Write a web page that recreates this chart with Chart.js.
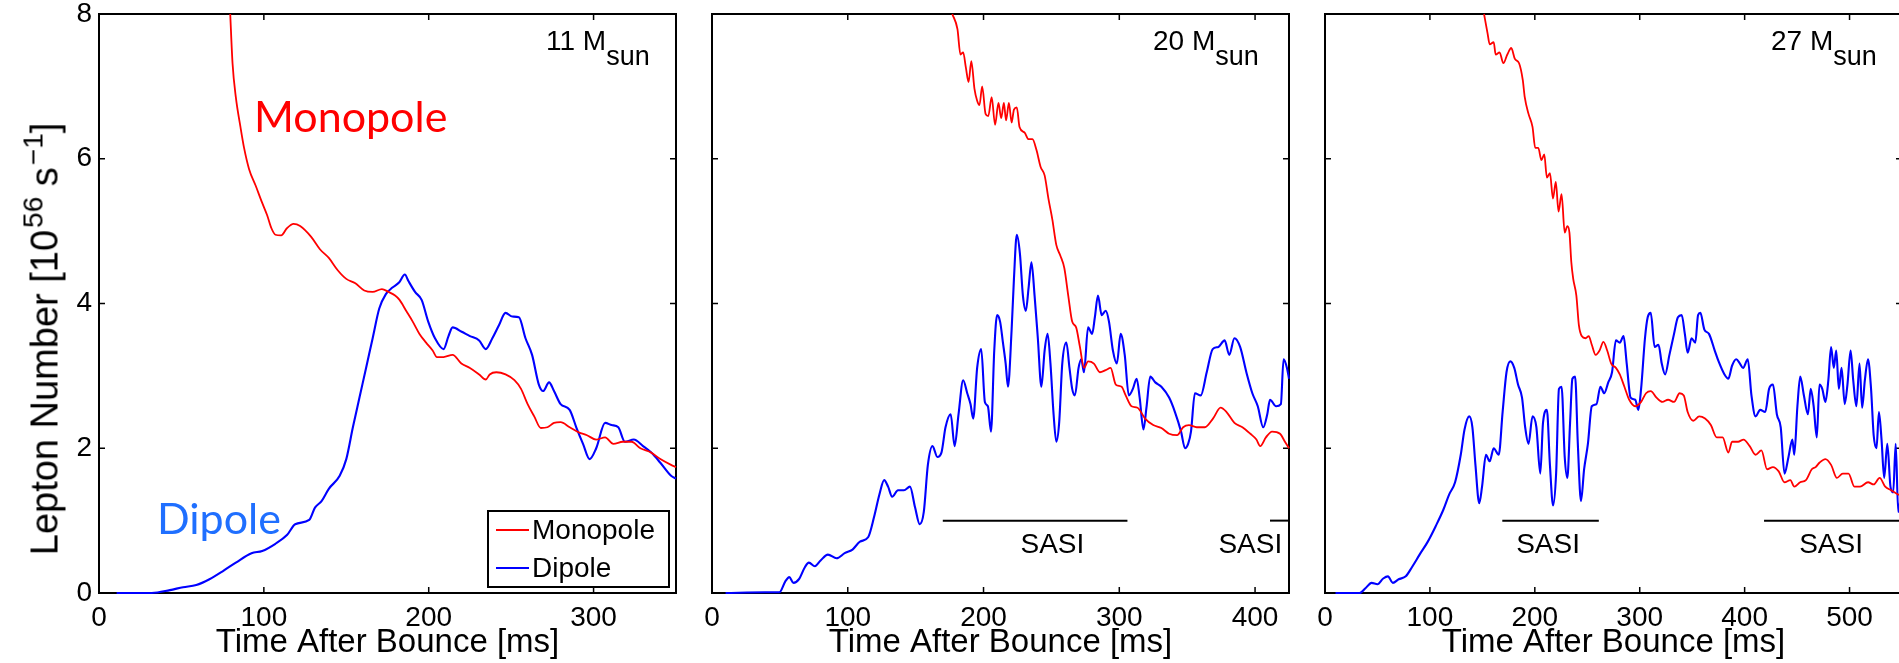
<!DOCTYPE html>
<html>
<head>
<meta charset="utf-8">
<script src="https://cdn.jsdelivr.net/npm/chart.js@4.4.1/dist/chart.umd.min.js"></script>
<style>
html, body { margin: 0; padding: 0; background: #fff; width: 1899px; height: 663px; overflow: hidden; position: relative; }
.panel { position: absolute; top: 0; height: 663px; }
.txt { position: absolute; white-space: nowrap; line-height: 1; }
.mass { font: 28px "Liberation Sans", Arial, sans-serif; color: #000; top: 25px; }
.mass sub { font-size: 27px; vertical-align: -15px; line-height: 0; }
.note { font: 43px Lato, sans-serif; }
#ytitle { left: 45px; top: 339px; transform: translate(-50%, -50%) rotate(-90deg); font: 38px "Liberation Sans", Arial, sans-serif; color: #000; }
#ytitle sup { font-size: 28px; vertical-align: 15px; line-height: 0; margin-left: 2px; }
</style>
</head>
<body>
<div class="panel" style="left:0;width:680px"><canvas id="chart11"></canvas></div>
<div class="panel" style="left:692px;width:601px"><canvas id="chart20"></canvas></div>
<div class="panel" style="left:1305px;width:601px"><canvas id="chart27"></canvas></div>

<div id="ytitle" class="txt">Lepton Number [10<sup>56</sup> s<sup>&minus;1</sup>]</div>
<div class="txt mass" style="left:546px">11 M<sub>sun</sub></div>
<div class="txt mass" style="left:1153px">20 M<sub>sun</sub></div>
<div class="txt mass" style="left:1771px">27 M<sub>sun</sub></div>
<div class="txt note" style="left:254px;top:90px;color:#ff0000">Monopole</div>
<div class="txt note" style="left:157px;top:492px;color:#1f6fff">Dipole</div>

<script>
// tick values
const xTicks11 = [0, 100, 200, 300];
const xTicks20 = [0, 100, 200, 300, 400];
const xTicks27 = [0, 100, 200, 300, 400, 500];
const yTicks = [0, 2, 4, 6, 8];

// [time ms, lepton number 1e56/s]
const mono11 = [[79.6,8.0],[81,7.32],[83,6.85],[85.8,6.44],[88,6.15],[91,5.86],[95,5.63],[99,5.39],[102,5.22],[104.6,5.04],
  [107,4.95],[110.5,4.94],[114,5.04],[118,5.10],[122,5.07],[128.7,4.92],[134,4.75],[139.4,4.63],[144.8,4.46],[150,4.34],
  [155.5,4.28],[160.9,4.18],[166,4.16],[171.6,4.20],[175.6,4.16],[179.6,4.11],[182.3,4.05],[186.3,3.90],[190.3,3.75],[194.4,3.58],
  [198.4,3.46],[202.4,3.35],[205,3.26],[209,3.26],[214.5,3.29],[219.8,3.17],[225,3.11],[230.6,3.02],[234.6,2.95],[237,3.02],
  [241,3.05],[246.6,3.02],[252,2.94],[256,2.82],[260,2.61],[264,2.44],[268,2.28],[272,2.29],[276,2.35],[280,2.36],
  [285.5,2.29],[291,2.22],[296,2.18],[301.6,2.12],[307,2.15],[312,2.06],[317.7,2.09],[323,2.09],[328.4,2.0],[335,1.94],
  [340.5,1.85],[347,1.77],[350,1.74]];
const dip11 = [[10.7,0],[32,0],[43,0.04],[51,0.08],[59,0.11],[67,0.19],[75,0.30],[83,0.42],[92.5,0.55],[99,0.58],
  [107,0.68],[114,0.80],[119,0.95],[127.5,1.01],[131,1.18],[135,1.27],[139.4,1.44],[146,1.62],[150,1.85],[154,2.29],
  [158,2.70],[162,3.11],[166,3.52],[170,3.93],[174,4.13],[178,4.22],[182,4.29],[185.5,4.40],[187.7,4.31],[191.7,4.16],
  [195.7,4.05],[199.7,3.75],[203.8,3.52],[209,3.37],[212,3.55],[214.5,3.67],[220,3.61],[225,3.55],[230.6,3.49],[234.6,3.37],
  [238.6,3.52],[242.6,3.70],[246.6,3.87],[250.7,3.82],[254.7,3.81],[258.7,3.52],[262.7,3.29],[266.8,2.88],[269.4,2.79],[273,2.91],
  [276,2.79],[280,2.61],[285.5,2.53],[289.5,2.29],[293.6,2.06],[297.6,1.85],[301.6,2.0],[307,2.35],[311,2.32],[315,2.29],
  [319,2.09],[324.4,2.12],[330,2.03],[335,1.94],[340.5,1.80],[347,1.62],[350,1.58]];

const mono20 = [[177,8.0],[180.8,7.79],[183,7.44],[185,7.47],[187,7.26],[189,7.06],[191,7.35],[193.3,6.97],[195.3,6.80],[197,6.74],
  [199,7.0],[201.5,6.62],[203.5,6.59],[206,6.85],[208.5,6.47],[211,6.77],[213,6.56],[215,6.77],[216.6,6.53],[218.7,6.77],
  [220.7,6.50],[222.4,6.68],[224.5,6.71],[226.5,6.44],[230.3,6.36],[233.2,6.27],[236,6.27],[239,6.12],[242,5.89],[245,5.77],
  [247.8,5.45],[250.7,5.16],[253.6,4.81],[256.6,4.66],[259.5,4.49],[262.4,4.11],[265.3,3.75],[268.2,3.67],[271,3.40],[274,3.11],
  [277,3.20],[281.3,3.17],[285.7,3.05],[290,3.08],[293.6,3.11],[297.4,2.88],[301.7,2.85],[304.7,2.73],[309,2.58],[313.4,2.56],
  [319,2.41],[325,2.32],[331,2.28],[336.7,2.20],[342.6,2.18],[347,2.29],[351.3,2.32],[357,2.29],[363,2.29],[369,2.41],
  [374.6,2.56],[379,2.50],[384.8,2.35],[390.7,2.29],[396.5,2.20],[401,2.12],[403.8,2.03],[408,2.15],[412.5,2.23],[418.4,2.20],
  [422,2.09],[425,2.0]];
const dip20 = [[10,0],[39,0.01],[49.6,0.01],[54,0.16],[56.9,0.22],[60,0.14],[64,0.19],[68.5,0.36],[71.4,0.42],[75.8,0.37],
  [80,0.45],[85.4,0.53],[91.8,0.48],[97.7,0.55],[103.5,0.60],[109,0.71],[115,0.77],[119.5,1.06],[123.3,1.36],[126.8,1.56],
  [129.7,1.47],[132.7,1.33],[137,1.42],[141.4,1.42],[145.8,1.47],[149.6,1.18],[153,0.95],[156,1.12],[159,1.77],[162.4,2.03],
  [166,1.88],[169,1.94],[172,2.29],[175.8,2.47],[178.7,2.03],[181.6,2.47],[185,2.94],[188,2.76],[190.4,2.61],[192.4,2.41],
  [195.3,3.11],[198.3,3.37],[201,2.64],[203.2,2.58],[205.5,2.23],[207.9,3.35],[210,3.84],[212.2,3.75],[214.3,3.46],[216.3,3.17],
  [218,2.85],[220.7,3.64],[222.4,4.34],[224.5,4.95],[226.8,4.69],[229,4.11],[231.2,3.90],[233.2,4.22],[235.3,4.57],[237.6,4.11],
  [240,3.52],[242.6,2.85],[245,3.35],[247.2,3.58],[249.3,3.17],[251.6,2.47],[253.6,2.09],[255.7,2.35],[258,3.17],[261,3.46],
  [263.3,3.11],[265.3,2.82],[267.3,2.73],[270,3.11],[272,3.23],[274,3.05],[277,3.67],[280,3.58],[282,3.81],[284.3,4.11],
  [287,3.84],[290,3.90],[292.4,3.75],[295.3,3.35],[298.2,3.17],[301,3.58],[304,3.29],[307,2.73],[310,2.82],[312.8,2.96],
  [315,2.70],[317.8,2.26],[320,2.56],[322.8,2.99],[326.5,2.91],[331,2.85],[336.7,2.70],[341,2.50],[345.5,2.23],[348.4,2.0],
  [350.7,2.06],[352.8,2.23],[355.7,2.76],[360,2.73],[364.4,3.05],[368.8,3.37],[373,3.40],[377.6,3.49],[381,3.29],[384.8,3.52],
  [389,3.40],[393.6,3.05],[398,2.76],[402,2.58],[406,2.29],[409,2.47],[411,2.67],[415.5,2.58],[419,2.61],[421,3.23],
  [423.5,3.11],[425,2.96]];

const mono27 = [[151.6,8.0],[155,7.73],[157,7.58],[160.8,7.61],[162.7,7.44],[166.4,7.47],[170,7.32],[173.8,7.44],[177.5,7.53],[181,7.38],
  [185,7.32],[188.5,7.09],[190.4,6.85],[194,6.62],[197.8,6.44],[200.4,6.15],[203.3,6.15],[206.3,5.98],[209,6.06],[211.5,5.74],
  [214.4,5.80],[217.3,5.45],[220,5.68],[222.6,5.27],[225.5,5.51],[228.5,4.98],[231,5.07],[233,4.98],[234.8,4.57],[236.6,4.34],
  [239.6,4.11],[242,3.70],[244.7,3.55],[248.4,3.52],[251.4,3.55],[254.3,3.43],[258,3.29],[261.7,3.35],[265.4,3.47],[269,3.35],
  [272.8,3.17],[277.3,3.11],[281,3.02],[285.4,2.85],[290,2.67],[295.7,2.58],[301.3,2.64],[306,2.76],[310.5,2.79],[316,2.70],
  [321.6,2.64],[327,2.67],[332.7,2.64],[338,2.76],[342,2.73],[345.7,2.50],[351,2.38],[356.7,2.44],[362.3,2.41],[367.8,2.32],
  [373.4,2.15],[379,2.15],[384.5,1.94],[388,2.09],[393.7,2.09],[399,2.12],[404.8,2.03],[410.4,1.91],[416,1.97],[421.4,1.71],
  [427,1.74],[432.5,1.68],[438,1.53],[443.6,1.56],[447.3,1.47],[452.9,1.53],[458.4,1.56],[464,1.71],[467.7,1.74],[471.3,1.80],
  [477,1.85],[482.4,1.77],[488,1.59],[493.5,1.65],[499,1.65],[504.6,1.47],[510,1.47],[517.6,1.53],[523,1.50],[528.7,1.59],
  [534,1.47],[539.7,1.42],[546.4,1.36],[550,1.34]];
const dip27 = [[10,0],[33,0],[38.8,0.07],[44.4,0.14],[50,0.12],[55.5,0.20],[60,0.23],[64.7,0.14],[70.2,0.19],[77,0.23],
  [83,0.36],[90.6,0.54],[98,0.71],[105.4,0.92],[112.8,1.15],[118.3,1.36],[124,1.53],[129.4,1.91],[133,2.26],[137.5,2.44],
  [140.5,2.29],[143.4,1.77],[147,1.24],[149.7,1.47],[153.4,1.91],[157,1.82],[160.8,2.0],[165.6,1.91],[169.3,2.50],[173,3.05],
  [176.7,3.20],[180.4,3.11],[184,2.88],[187.8,2.70],[190.8,2.29],[194,2.06],[197.8,2.44],[201.5,2.29],[205.2,1.65],[207.8,2.35],
  [211.5,2.53],[214.4,1.77],[217.4,1.21],[220.3,1.65],[223,2.82],[225.5,2.85],[228.5,1.88],[231,1.59],[233.6,2.35],[235.8,2.96],
  [238.4,2.99],[241,2.06],[244,1.27],[247,1.71],[250.6,2.06],[254.3,2.58],[258.8,2.61],[262.5,2.85],[266.2,2.76],[270,2.91],
  [273.6,3.05],[277.3,3.49],[281,3.46],[284.6,3.55],[287.6,3.17],[291.3,2.70],[295.7,2.67],[298.7,2.53],[301.3,2.82],[305,3.52],
  [307.6,3.81],[310.5,3.87],[314.2,3.40],[317.9,3.43],[321,3.17],[324.2,3.02],[328.3,3.29],[332.7,3.58],[336.4,3.81],[340,3.84],
  [343,3.58],[345.7,3.32],[349.4,3.52],[353,3.46],[355.6,3.84],[357.8,3.87],[361.6,3.64],[366,3.58],[371.5,3.35],[375.2,3.20],
  [380.8,3.02],[384.5,2.96],[388,3.14],[392,3.23],[395.5,3.17],[398.5,3.11],[403,3.23],[406.5,2.73],[410.4,2.44],[414.8,2.53],
  [419.6,2.50],[423.3,2.82],[427,2.88],[430.7,2.47],[434.4,2.29],[438,1.65],[441.8,1.88],[445.5,2.12],[447.3,1.91],[450.3,2.58],
  [453,2.99],[456.5,2.73],[460.3,2.47],[463,2.82],[465.8,2.58],[468.8,2.15],[471.3,2.88],[474,2.82],[477,2.64],[479.8,2.94],
  [482.4,3.40],[485,3.11],[487.3,3.35],[489.8,2.82],[492.4,3.11],[495.4,2.61],[498,2.88],[501,3.35],[503.5,2.94],[506.5,2.58],
  [509.5,3.17],[512,2.56],[514.6,2.94],[517.6,3.23],[520.5,2.82],[523,2.18],[525.7,2.0],[528,2.50],[530.5,2.12],[533,1.59],
  [536,2.06],[539,1.47],[541.6,1.39],[544,2.06],[546.4,1.12],[550,1.5]];

// SASI intervals [start, end] in ms
const sasi20 = [[170, 306], [411, 426]];
const sasi27 = [[169, 261], [418.5, 552]];
const sasiLevel = 1.0;

const FONT = '"Liberation Sans", Arial, sans-serif';

// axis box and inward ticks (under the curves), SASI labels on top
const frameTicks = {
    id: "frameTicks",
    beforeDatasetsDraw(chart) {
        const { ctx, chartArea: a, scales: { x, y } } = chart;
        ctx.save();
        ctx.strokeStyle = "#000";
        ctx.lineWidth = 1.5;
        ctx.beginPath();
        x.ticks.forEach(t => {
            const px = x.getPixelForValue(t.value);
            ctx.moveTo(px, a.bottom); ctx.lineTo(px, a.bottom - 6);
            ctx.moveTo(px, a.top); ctx.lineTo(px, a.top + 6);
        });
        y.ticks.forEach(t => {
            const py = y.getPixelForValue(t.value);
            ctx.moveTo(a.left, py); ctx.lineTo(a.left + 6, py);
            ctx.moveTo(a.right, py); ctx.lineTo(a.right - 6, py);
        });
        ctx.stroke();
        ctx.lineWidth = 2;
        ctx.strokeRect(a.left, a.top, a.width, a.height);
        ctx.restore();
    },
    afterDatasetsDraw(chart, args, opts) {
        const { ctx, scales: { x, y } } = chart;
        ctx.save();
        ctx.fillStyle = "#000";
        ctx.font = "28px " + FONT;
        ctx.textAlign = "center";
        ctx.textBaseline = "middle";
        (opts.labels || []).forEach(cx => {
            ctx.fillText("SASI", x.getPixelForValue(cx), y.getPixelForValue(0.66));
        });
        ctx.restore();
    }
};

const boxLegend = {
    id: "boxLegend",
    afterDraw(chart, args, opts) {
        if (!opts.show) return;
        const { ctx, chartArea: a } = chart;
        const items = chart.data.datasets.filter(d => d.label);
        const w = 181, h = 76;
        const x0 = a.right - 7 - w, y0 = a.bottom - 6 - h;
        ctx.save();
        ctx.fillStyle = "#fff";
        ctx.fillRect(x0, y0, w, h);
        ctx.strokeStyle = "#000";
        ctx.lineWidth = 2;
        ctx.strokeRect(x0, y0, w, h);
        ctx.font = "28px " + FONT;
        ctx.textBaseline = "middle";
        items.forEach((d, i) => {
            const cy = y0 + 19 + i * 38;
            ctx.strokeStyle = d.borderColor;
            ctx.beginPath();
            ctx.moveTo(x0 + 8, cy);
            ctx.lineTo(x0 + 41, cy);
            ctx.stroke();
            ctx.fillStyle = "#000";
            ctx.fillText(d.label, x0 + 44, cy + 1);
        });
        ctx.restore();
    }
};

function toXY(pairs) {
    return pairs.map(p => ({ x: p[0], y: p[1] }));
}

function makePanel(canvasId, mono, dip, sasi, xMax, xTicks, yWidth, showY, sasiLabels, showLegend) {
    const datasets = [
        { label: "Monopole", data: toXY(mono), borderColor: "#ff0000", borderWidth: 1.8, cubicInterpolationMode: "monotone", clip: 3 },
        { label: "Dipole", data: toXY(dip), borderColor: "#0000ff", borderWidth: 2.1, cubicInterpolationMode: "monotone", clip: 3 }
    ];
    sasi.forEach(s => {
        datasets.push({
            data: [{ x: s[0], y: sasiLevel }, { x: s[1], y: sasiLevel }],
            borderColor: "#000",
            borderWidth: 2
        });
    });

    return new Chart(document.getElementById(canvasId), {
        type: "line",
        data: { datasets: datasets },
        plugins: [frameTicks, boxLegend],
        options: {
            responsive: true,
            maintainAspectRatio: false,
            animation: false,
            layout: { padding: { top: 14, right: 4, left: 0, bottom: 0 } },
            elements: { point: { radius: 0 }, line: { tension: 0 } },
            plugins: {
                legend: { display: false },
                tooltip: { enabled: false },
                frameTicks: { labels: sasiLabels },
                boxLegend: { show: showLegend }
            },
            scales: {
                x: {
                    type: "linear",
                    min: 0,
                    max: xMax,
                    afterBuildTicks: s => { s.ticks = xTicks.map(v => ({ value: v })); },
                    afterFit: s => { s.height = 70; s.paddingLeft = 0; s.paddingRight = 0; },
                    grid: { display: false, drawTicks: false },
                    border: { display: false },
                    ticks: { color: "#000", font: { family: FONT, size: 28 }, padding: 8, autoSkip: false, maxRotation: 0 },
                    title: {
                        display: true,
                        text: "Time After Bounce [ms]",
                        color: "#000",
                        font: { family: FONT, size: 33 },
                        padding: { top: 0, bottom: 0 }
                    }
                },
                y: {
                    type: "linear",
                    min: 0,
                    max: 8,
                    afterBuildTicks: s => { s.ticks = yTicks.map(v => ({ value: v })); },
                    afterFit: s => { s.width = yWidth; s.paddingTop = 0; s.paddingBottom = 0; },
                    grid: { display: false, drawTicks: false },
                    border: { display: false },
                    ticks: { display: showY, color: "#000", font: { family: FONT, size: 28 }, padding: 7 }
                }
            }
        }
    });
}

makePanel("chart11", mono11, dip11, [], 350, xTicks11, 99, true, [], true);
makePanel("chart20", mono20, dip20, sasi20, 425, xTicks20, 20, false, [250.7, 396.5], false);
makePanel("chart27", mono27, dip27, sasi27, 550, xTicks27, 20, false, [212.6, 482.4], false);
</script>
</body>
</html>
